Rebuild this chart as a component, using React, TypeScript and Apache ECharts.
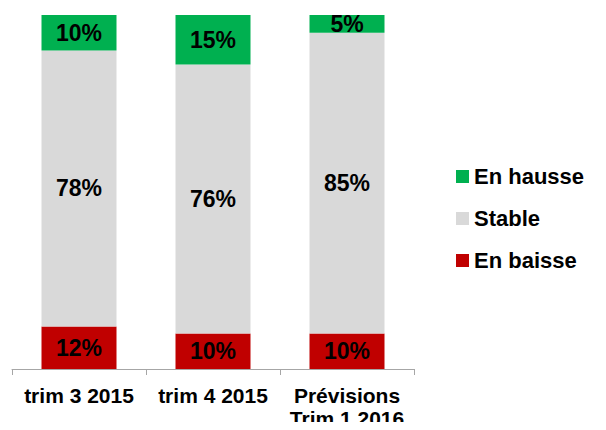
import React, { useEffect, useRef } from "react";
import * as echarts from "echarts";

const categories = ["trim 3 2015", "trim 4 2015", "Prévisions\nTrim 1 2016"];
const enBaisse = [12, 10, 10];
const stable = [78, 76, 85];
const enHausse = [10, 15, 5];
const legendOrder = ["En hausse", "Stable", "En baisse"];

const FONT = "'Liberation Sans', Arial, Helvetica, sans-serif";

export default function App() {
  const ref = useRef<HTMLDivElement>(null);
  useEffect(() => {
    if (!ref.current) return;
    const chart = echarts.init(ref.current, null, { renderer: "svg" });
    const label = {
      show: true,
      position: "inside",
      formatter: (p: any) => p.value + "%",
      color: "#000",
      fontSize: 23,
      fontWeight: "bold",
      fontFamily: FONT,
    };
    const mk = (name: string, data: number[], color: string) => ({
      name,
      type: "bar",
      stack: "total",
      data,
      barWidth: 75,
      itemStyle: { color },
      label,
    });
    chart.setOption({
      animation: false,
      textStyle: { fontFamily: FONT },
      grid: { left: 12, right: 192, top: 15, bottom: 57, containLabel: false },
      legend: {
        orient: "vertical",
        left: 456,
        top: 165.5,
        padding: 0,
        data: legendOrder,
        itemWidth: 13,
        itemHeight: 13,
        itemGap: 20,
        icon: "rect",
        textStyle: {
          fontSize: 22,
          fontWeight: "bold",
          color: "#000",
          fontFamily: FONT,
          lineHeight: 22,
        },
      },
      xAxis: {
        type: "category",
        data: categories,
        boundaryGap: true,
        axisLine: { lineStyle: { color: "#A6A6A6", width: 1 } },
        axisTick: { show: true, length: 6, lineStyle: { color: "#A6A6A6" } },
        axisLabel: {
          color: "#000",
          fontSize: 21,
          fontWeight: "bold",
          fontFamily: FONT,
          lineHeight: 23,
          margin: 15,
          interval: 0,
        },
      },
      yAxis: { type: "value", min: 0, max: 100, show: false },
      series: [
        mk("En baisse", enBaisse, "#C00000"),
        mk("Stable", stable, "#D9D9D9"),
        mk("En hausse", enHausse, "#00B050"),
      ],
    });
    return () => chart.dispose();
  }, []);
  return <div ref={ref} style={{ width: 606, height: 430, margin: -8 }} />;
}
